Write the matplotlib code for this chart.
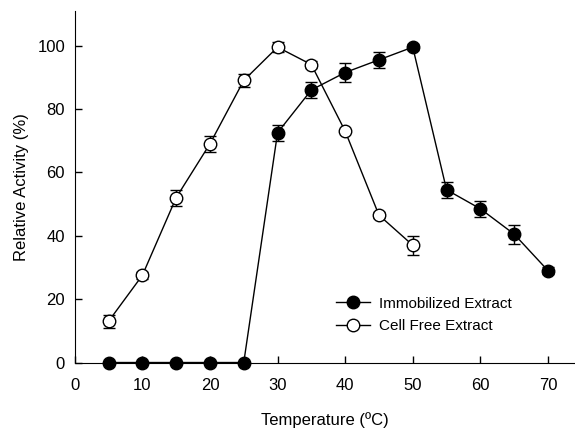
import matplotlib.pyplot as plt
from matplotlib.lines import Line2D

plt.rcParams['font.family'] = ['Liberation Sans', 'DejaVu Sans']

# temperatures (ºC)
temp_imm = [5, 10, 15, 20, 25, 30, 35, 40, 45, 50, 55, 60, 65, 70]
act_imm = [0, 0, 0, 0, 0, 72.5, 86, 91.5, 95.5, 99.5, 54.5, 48.5, 40.5, 29]
err_imm = [0, 0, 0, 0, 0, 2.5, 2.5, 3, 2.5, 1, 2.5, 2.5, 3, 1]

temp_cfe = [5, 10, 15, 20, 25, 30, 35, 40, 45, 50]
act_cfe = [13, 27.5, 52, 69, 89, 99.5, 94, 73, 46.5, 37]
err_cfe = [2, 1, 2.5, 2.5, 2, 1.5, 1, 0, 1, 3]

fig = plt.figure(figsize=(5.75, 4.28), dpi=100)
ax = fig.add_axes([0.130, 0.153, 0.870, 0.822])

ax.errorbar(temp_imm, act_imm, yerr=err_imm, color='black', marker='o',
            markersize=9, markerfacecolor='black', markeredgecolor='black',
            linewidth=1, elinewidth=1, capsize=4, capthick=1,
            clip_on=False, zorder=3)
ax.errorbar(temp_cfe, act_cfe, yerr=err_cfe, color='black', marker='o',
            markersize=9, markerfacecolor='white', markeredgecolor='black',
            linewidth=1, elinewidth=1, capsize=4, capthick=1,
            clip_on=False, zorder=3)

ax.set_xlim(0, 74)
ax.set_ylim(0, 111)
ax.set_xticks([0, 10, 20, 30, 40, 50, 60, 70])
ax.set_yticks([0, 20, 40, 60, 80, 100])
ax.tick_params(direction='in', length=5, labelsize=12, width=1)
ax.tick_params(axis='x', pad=11)
ax.tick_params(axis='y', pad=7)
ax.spines['top'].set_visible(False)
ax.spines['right'].set_visible(False)

ax.set_xlabel('Temperature (ºC)', fontsize=12, labelpad=14)
ax.set_ylabel('Relative Activity (%)', fontsize=12, labelpad=6)

# legend handles without error bars
handles = [
    Line2D([], [], color='black', marker='o', markersize=9,
           markerfacecolor='black', linewidth=1),
    Line2D([], [], color='black', marker='o', markersize=9,
           markerfacecolor='white', linewidth=1),
]
labels = ['Immobilized Extract', 'Cell Free Extract']
ax.legend(handles, labels, loc='lower left', bbox_to_anchor=(0.495, 0.045),
          frameon=False, fontsize=11, handlelength=2.2, handletextpad=0.6,
          labelspacing=0.55)

fig.savefig('out.png', dpi=100)
